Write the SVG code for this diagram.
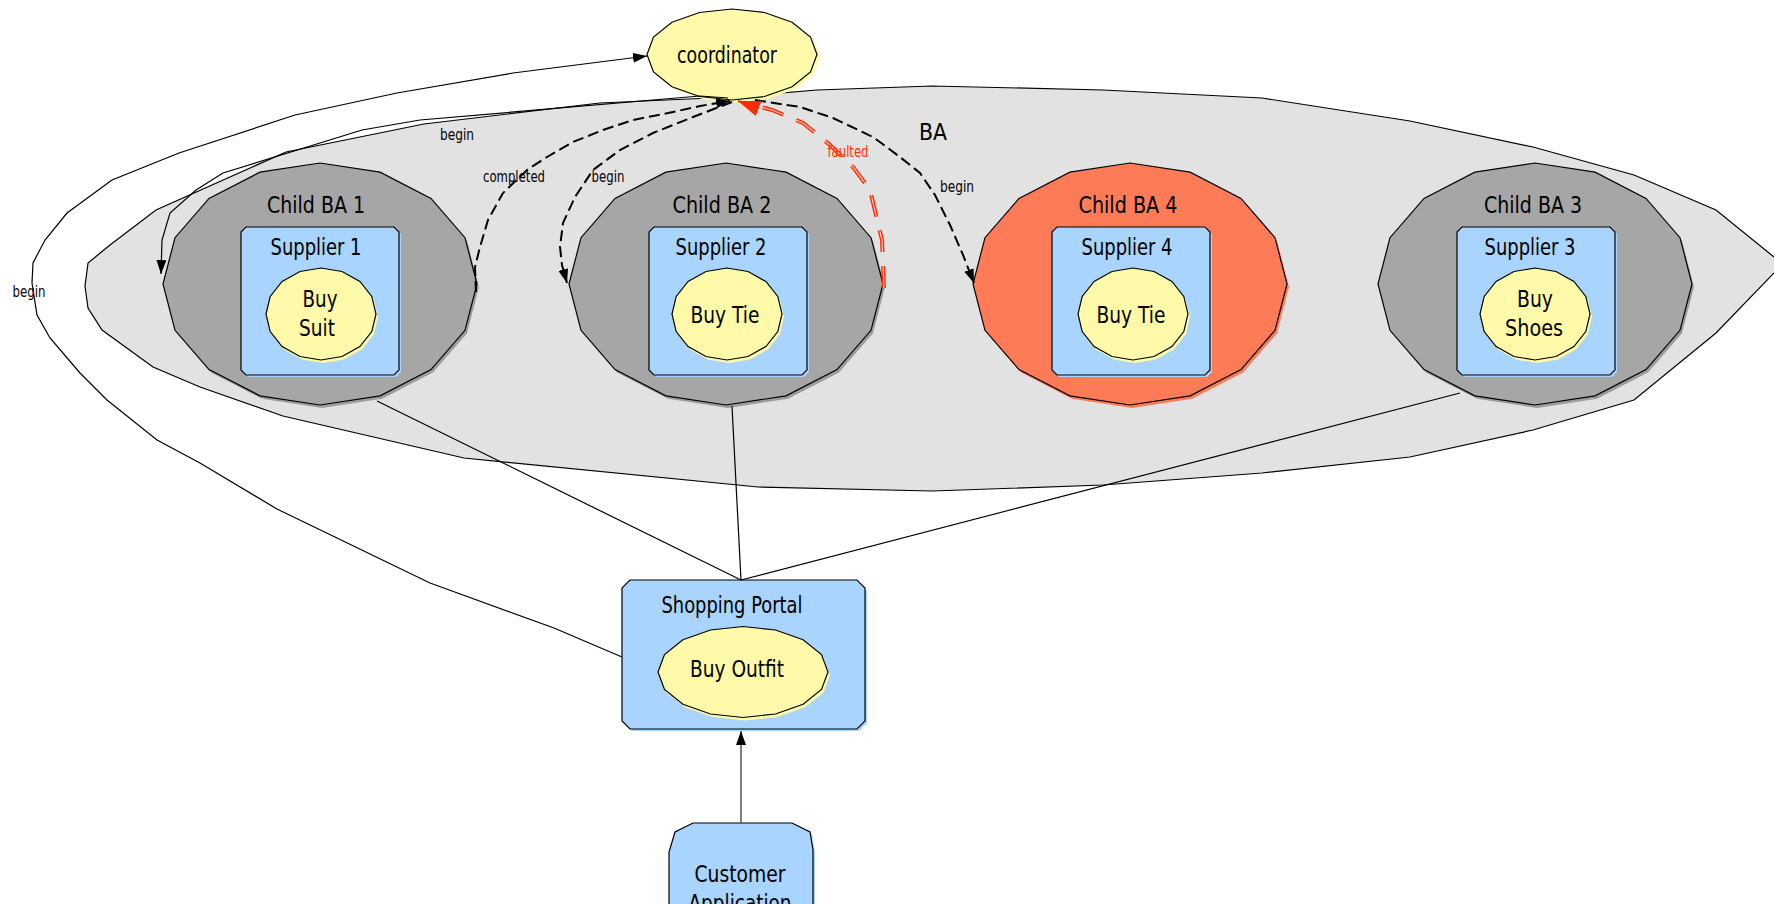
<svg xmlns="http://www.w3.org/2000/svg" xmlns:xlink="http://www.w3.org/1999/xlink" width="1774" height="904" viewBox="0 0 1774 904">
<style>
.ol{stroke:#000;stroke-width:1.2;stroke-linejoin:miter}
.ba{fill:#e2e2e2}
.gray{fill:#a6a6a6}
.grayS{fill:#9c9c9c}
.red{fill:#fe7b58}
.blue{fill:#a8d4fd}
.yel{fill:#fffaaa}
.t{font-family:"DejaVu Sans","Liberation Sans",sans-serif;fill:#000;text-anchor:middle}
.big{font-size:23px}
.lbl{font-size:15px}
.line{fill:none;stroke:#000;stroke-width:1.2}
.dash{fill:none;stroke:#000;stroke-width:2;stroke-dasharray:11 5}
.rdash{fill:none;stroke:#ff2a00;stroke-width:4;stroke-dasharray:22 14}
.rdashIn{fill:none;stroke:#f4d0c4;stroke-width:1.2;stroke-dasharray:22 14}
</style>
<defs>
<polygon id="childShape" points="157,0 145,46.3 111,85.6 60.1,111.8 0,121 -60.1,111.8 -111,85.6 -145,46.3 -157,0 -145,-46.3 -111,-85.6 -60.1,-111.8 0,-121 60.1,-111.8 111,-85.6 145,-46.3"/>
<polygon id="taskShape" points="55,0 50.8,17.6 38.9,32.5 21,42.5 0,46 -21,42.5 -38.9,32.5 -50.8,17.6 -55,0 -50.8,-17.6 -38.9,-32.5 -21,-42.5 0,-46 21,-42.5 38.9,-32.5 50.8,-17.6"/>
<polygon id="wideShape" points="85,0 78.5,17.4 60.1,32.2 32.5,42 0,45.5 -32.5,42 -60.1,32.2 -78.5,17.4 -85,0 -78.5,-17.4 -60.1,-32.2 -32.5,-42 0,-45.5 32.5,-42 60.1,-32.2 78.5,-17.4"/>
<polygon id="supplierBox" points="5,0 153,0 158,5 158,143 153,148 5,148 0,143 0,5"/>
<marker id="arr" viewBox="0 0 14 10" refX="14" refY="5" markerWidth="14" markerHeight="10" orient="auto" markerUnits="userSpaceOnUse"><path d="M0,0 L14,5 L0,10 z" fill="#000"/></marker>
<marker id="arrRed" viewBox="0 0 22 16" refX="22" refY="8" markerWidth="22" markerHeight="16" orient="auto" markerUnits="userSpaceOnUse"><path d="M0,0 L22,8 L0,16 z" fill="#ff2a00"/></marker>
</defs>

<g id="BA">
<polygon class="ba ol" points="85,286 88,263 110,245 156,210 286,152 424,124 600,103 733,97 817,90 932,86 1103,90 1262,98 1410,121 1533,147 1634,175 1716,210 1774,257 1790,265 1774,273 1716,333 1634,400 1533,430 1410,457 1262,473 1103,485 932,491 758,487 464,458 283,416 200,387 153,367 102,330 88,308"/>
<text class="t big" x="933" y="140" textLength="28" lengthAdjust="spacingAndGlyphs">BA</text>
</g>

<g id="child-ba-1">
<use href="#childShape" x="322" y="287" class="grayS"/>
<use href="#childShape" x="320" y="284" class="gray ol"/>
<text class="t big" x="316" y="213" textLength="98" lengthAdjust="spacingAndGlyphs">Child BA 1</text>
<g id="supplier-1">
<use href="#supplierBox" x="243" y="229" class="blue"/>
<use href="#supplierBox" x="241" y="227" class="blue ol"/>
<text class="t big" x="316" y="255" textLength="91" lengthAdjust="spacingAndGlyphs">Supplier 1</text>
<g id="buy-suit">
<use href="#taskShape" x="323" y="317" class="yel"/>
<use href="#taskShape" x="321" y="314" class="yel ol"/>
<text class="t big" x="320" y="307" textLength="35" lengthAdjust="spacingAndGlyphs">Buy</text>
<text class="t big" x="317" y="336" textLength="36" lengthAdjust="spacingAndGlyphs">Suit</text>
</g>
</g>
</g>

<g id="child-ba-2">
<use href="#childShape" x="728" y="287" class="grayS"/>
<use href="#childShape" x="726" y="284" class="gray ol"/>
<text class="t big" x="722" y="213" textLength="99" lengthAdjust="spacingAndGlyphs">Child BA 2</text>
<g id="supplier-2">
<use href="#supplierBox" x="651" y="229" class="blue"/>
<use href="#supplierBox" x="649" y="227" class="blue ol"/>
<text class="t big" x="721" y="255" textLength="91" lengthAdjust="spacingAndGlyphs">Supplier 2</text>
<g id="buy-tie-2">
<use href="#taskShape" x="729" y="317" class="yel"/>
<use href="#taskShape" x="727" y="314" class="yel ol"/>
<text class="t big" x="725" y="323" textLength="69" lengthAdjust="spacingAndGlyphs">Buy Tie</text>
</g>
</g>
</g>

<g id="child-ba-4">
<use href="#childShape" x="1132" y="287" class="red"/>
<use href="#childShape" x="1130" y="284" class="red ol"/>
<text class="t big" x="1128" y="213" textLength="99" lengthAdjust="spacingAndGlyphs">Child BA 4</text>
<g id="supplier-4">
<use href="#supplierBox" x="1054" y="229" class="blue"/>
<use href="#supplierBox" x="1052" y="227" class="blue ol"/>
<text class="t big" x="1127" y="255" textLength="91" lengthAdjust="spacingAndGlyphs">Supplier 4</text>
<g id="buy-tie-4">
<use href="#taskShape" x="1135" y="317" class="yel"/>
<use href="#taskShape" x="1133" y="314" class="yel ol"/>
<text class="t big" x="1131" y="323" textLength="69" lengthAdjust="spacingAndGlyphs">Buy Tie</text>
</g>
</g>
</g>

<g id="child-ba-3">
<use href="#childShape" x="1537" y="287" class="grayS"/>
<use href="#childShape" x="1535" y="284" class="gray ol"/>
<text class="t big" x="1533" y="213" textLength="98" lengthAdjust="spacingAndGlyphs">Child BA 3</text>
<g id="supplier-3">
<use href="#supplierBox" x="1459" y="229" class="blue"/>
<use href="#supplierBox" x="1457" y="227" class="blue ol"/>
<text class="t big" x="1530" y="255" textLength="91" lengthAdjust="spacingAndGlyphs">Supplier 3</text>
<g id="buy-shoes">
<use href="#taskShape" x="1537" y="317" class="yel"/>
<use href="#taskShape" x="1535" y="314" class="yel ol"/>
<text class="t big" x="1535" y="307" textLength="36" lengthAdjust="spacingAndGlyphs">Buy</text>
<text class="t big" x="1534" y="336" textLength="58" lengthAdjust="spacingAndGlyphs">Shoes</text>
</g>
</g>
</g>

<g id="coordinator">
<use href="#wideShape" x="735" y="57" class="yel"/>
<use href="#wideShape" x="732" y="54.5" class="yel ol"/>
<text class="t big" x="727" y="63" textLength="100" lengthAdjust="spacingAndGlyphs">coordinator</text>
</g>

<g id="shopping-portal">
<polygon class="blue" points="632,583 859,583 867,591 867,723 859,731 632,731 624,723 624,591"/>
<polygon class="blue ol" points="630,580 857,580 865,588 865,721 857,729 630,729 622,721 622,588"/>
<text class="t big" x="732" y="613" textLength="141" lengthAdjust="spacingAndGlyphs">Shopping Portal</text>
<g id="buy-outfit">
<use href="#wideShape" x="745" y="675" class="yel"/>
<use href="#wideShape" x="743" y="672" class="yel ol"/>
<text class="t big" x="737" y="677" textLength="94" lengthAdjust="spacingAndGlyphs">Buy Outfit</text>
</g>
</g>

<g id="customer-application">
<polygon class="blue" points="695,825 794,825 812,834 815,852 815,960 671,960 671,854 677,834"/>
<polygon class="blue ol" points="693,823 792,823 810,832 813,850 813,960 669,960 669,852 675,832"/>
<text class="t big" x="740" y="882" textLength="91" lengthAdjust="spacingAndGlyphs">Customer</text>
<text class="t big" x="740" y="911" textLength="103" lengthAdjust="spacingAndGlyphs">Application</text>
</g>

<g id="connectors">
<line class="line" x1="741" y1="580" x2="377" y2="401"/>
<line class="line" x1="741" y1="580" x2="732" y2="406"/>
<line class="line" x1="741" y1="580" x2="1460" y2="393"/>
<line x1="741" y1="823" x2="741" y2="731" stroke="#555" stroke-width="1.5" marker-end="url(#arr)"/>
<polyline class="line" marker-end="url(#arr)" points="622,657 554,628 430,583 277,509 200,463 157,440 107,400 80,373 50,338 37,315 32,283 33,263 45,240 67,213 112,180 179,153 295,115 397,93 513,73 647,56"/>
<text class="t lbl" x="29" y="297" textLength="33" lengthAdjust="spacingAndGlyphs">begin</text>
<polyline class="line" marker-end="url(#arr)" points="728,98 700,96 420,120 362,130 223,173 196,190 170,213 162,240 161,274"/>
<text class="t lbl" x="457" y="140" textLength="34" lengthAdjust="spacingAndGlyphs">begin</text>
<polyline class="dash" marker-end="url(#arr)" points="476,292 475,267 480,247 488,220 503,193 527,170 547,157 573,142 603,130 633,120 673,112 700,106 730,101"/>
<text class="t lbl" x="514" y="182" textLength="62" lengthAdjust="spacingAndGlyphs">completed</text>
<polyline class="dash" marker-end="url(#arr)" points="732,102 693,117 653,133 620,150 593,170 575,197 563,223 560,247 562,265 567,283"/>
<text class="t lbl" x="608" y="182" textLength="33" lengthAdjust="spacingAndGlyphs">begin</text>
<polyline class="dash" marker-end="url(#arr)" points="755,100 800,107 833,118 873,137 900,157 920,173 935,195 950,225 963,255 974,283"/>
<text class="t lbl" x="957" y="192" textLength="34" lengthAdjust="spacingAndGlyphs">begin</text>
<polyline class="rdash" points="884,288 882,240 870,190 853,167 830,145 803,123 772,110 757,106"/>
<polyline class="rdashIn" points="884,288 882,240 870,190 853,167 830,145 803,123 772,110 757,106"/>
<line x1="757" y1="108" x2="738" y2="101" stroke="#ff2a00" stroke-width="2" marker-end="url(#arrRed)"/>
<text class="t lbl" x="848" y="157" textLength="41" lengthAdjust="spacingAndGlyphs" style="fill:#ff3300">faulted</text>
</g>
</svg>
